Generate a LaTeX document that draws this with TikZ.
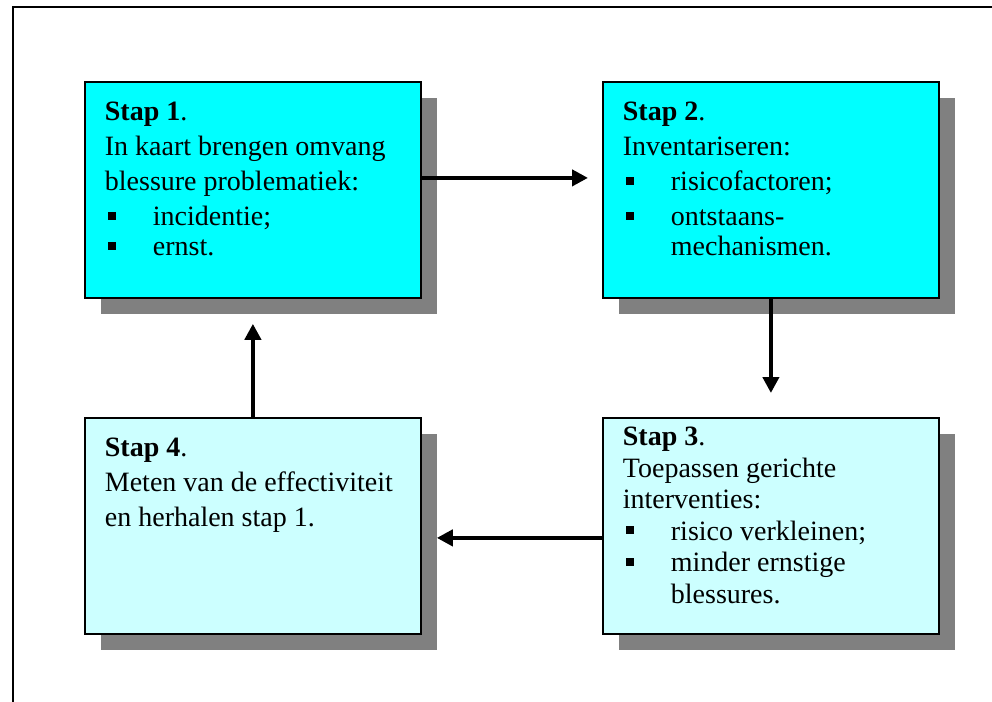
\documentclass[tikz,border=0pt]{standalone}
\usepackage{fontspec}
\setmainfont{Liberation Serif}
\usetikzlibrary{arrows.meta,shadows}

\definecolor{stapcyan}{HTML}{00FFFF}
\definecolor{staplight}{HTML}{CCFFFF}

\newcommand{\stapitem}[1]{\makebox[48pt][l]{\hspace{3pt}\raisebox{6pt}{\rule{8pt}{8pt}}}#1}
\newcommand{\stapbody}[3]{\parbox[t][#1][t]{296pt}{\raggedright\rule{0pt}{#2}#3}}

\tikzset{
  stapbox/.style = {draw, line width = 1.8pt, anchor = north west,
    minimum width = 336pt, minimum height = 216pt,
    inner xsep = 20pt, inner ysep = 13pt,
    font = \fontsize{28}{35}\selectfont,
    drop shadow = {shadow xshift = 16pt, shadow yshift = -16pt,
      fill = gray, opacity = 1}},
  staparrow/.style = {line width = 4.5pt,
    -{Triangle[length = 16pt, width = 16pt]}}
}

\begin{document}
\begin{tikzpicture}[x = 1pt, y = -1pt]
        \useasboundingbox (0,0) rectangle (992,701);

        % draws the frame
        \draw[line width = 2pt] (12.5,720) -- (12.5,7.5) -- (1000,7.5);

        % draws the steps
        \node[stapbox, fill = stapcyan] (s1) at (84,81)
          {\stapbody{190pt}{26pt}{\textbf{Stap 1}.\\
            In kaart brengen omvang\\
            blessure problematiek:\\
            \stapitem{incidentie;}\\[-5pt]
            \stapitem{ernst.}}};
        \node[stapbox, fill = stapcyan] (s2) at (602,81)
          {\stapbody{190pt}{26pt}{\textbf{Stap 2}.\\
            Inventariseren:\\
            \stapitem{risicofactoren;}\\
            \stapitem{ontstaans-}\\[-5pt]
            \hspace*{48pt}mechanismen.}};
        \node[stapbox, fill = staplight, inner ysep = 8pt,
          font = \fontsize{28}{31.5}\selectfont] (s3) at (602,417)
          {\stapbody{200pt}{20pt}{\textbf{Stap 3}.\\
            Toepassen gerichte\\
            interventies:\\
            \stapitem{risico verkleinen;}\\
            \stapitem{minder ernstige}\\
            \hspace*{48pt}blessures.}};
        \node[stapbox, fill = staplight] (s4) at (84,417)
          {\stapbody{190pt}{26pt}{\textbf{Stap 4}.\\
            Meten van de effectiviteit\\
            en herhalen stap 1.}};

        % draws the cycle
        \draw[staparrow] ([yshift = 12pt]s1.east)
          -- ([xshift = -14pt, yshift = 12pt]s2.west);
        \draw[staparrow] (s2.south) -- ([yshift = 24pt]s3.north);
        \draw[staparrow] ([yshift = -12pt]s3.west)
          -- ([xshift = 15pt, yshift = -12pt]s4.east);
        \draw[staparrow] (s4.north) -- ([yshift = -25pt]s1.south);
      \end{tikzpicture}
\end{document}
